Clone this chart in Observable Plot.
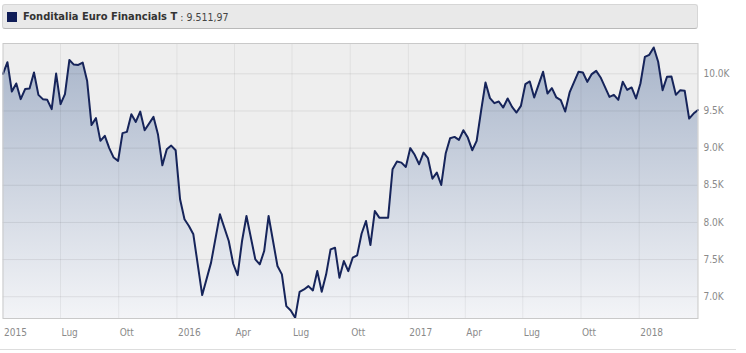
<!DOCTYPE html>
<html>
<head>
<meta charset="utf-8">
<script src="https://cdn.jsdelivr.net/npm/d3@7"></script>
<script src="https://cdn.jsdelivr.net/npm/@observablehq/plot@0.6"></script>
<style>
  html, body { margin: 0; padding: 0; background: #fff; }
  #wrap { position: relative; width: 746px; }
  #title {
    box-sizing: border-box;
    margin: 4px 0 0 2px; width: 696px; height: 25px;
    background: #e9e9e9; border: 1px solid #d6d6d6; border-bottom-color: #b9b9b9;
    border-radius: 3px;
    font-family: "DejaVu Sans Condensed", "DejaVu Sans", sans-serif; font-size: 11px; color: #333;
    display: flex; align-items: center; padding-left: 4px;
  }
  #title .sq { width: 10px; height: 10px; background: #0f1c57; margin-right: 6px; }
  #title b { font-weight: bold; }
  #title .val { color: #444; font-size: 10.5px; }
  #chartbox { margin-top: 11px; width: 746px; height: 309px; }
  #chartbox svg { display: block; max-width: none; }
  #sep { width: 736px; border-top: 1px solid #dddddd; }
</style>
</head>
<body>
<div id="wrap">
  <div id="title"><span class="sq"></span><b>Fonditalia Euro Financials T</b><span class="val">&nbsp;:&nbsp;9.511,97</span></div>
  <div id="chartbox"></div>
  <div id="sep"></div>
</div>
<script>
const dates = [
"2015-04-01","2015-04-08","2015-04-15","2015-04-22","2015-04-29","2015-05-06","2015-05-13","2015-05-20","2015-05-27","2015-06-03",
"2015-06-10","2015-06-17","2015-06-24","2015-07-01","2015-07-08","2015-07-15","2015-07-22","2015-07-29","2015-08-05","2015-08-12",
"2015-08-19","2015-08-26","2015-09-02","2015-09-09","2015-09-16","2015-09-23","2015-09-30","2015-10-07","2015-10-14","2015-10-21",
"2015-10-28","2015-11-04","2015-11-11","2015-11-25","2015-12-02","2015-12-09","2015-12-16","2015-12-23","2015-12-30","2016-01-06",
"2016-01-13","2016-01-20","2016-01-27","2016-02-10","2016-02-24","2016-03-09","2016-03-23","2016-03-30","2016-04-06","2016-04-13",
"2016-04-20","2016-05-04","2016-05-11","2016-05-18","2016-05-25","2016-06-08","2016-06-15","2016-06-22","2016-06-29","2016-07-06",
"2016-07-13","2016-07-20","2016-07-27","2016-08-03","2016-08-10","2016-08-17","2016-08-24","2016-08-31","2016-09-07","2016-09-14",
"2016-09-21","2016-09-28","2016-10-05","2016-10-12","2016-10-19","2016-10-26","2016-11-02","2016-11-09","2016-11-16","2016-11-30",
"2016-12-07","2016-12-14","2016-12-21","2016-12-28","2017-01-04","2017-01-11","2017-01-18","2017-01-25","2017-02-01","2017-02-08",
"2017-02-15","2017-02-22","2017-03-01","2017-03-08","2017-03-15","2017-03-22","2017-03-29","2017-04-05","2017-04-12","2017-04-19",
"2017-04-26","2017-05-03","2017-05-10","2017-05-17","2017-05-24","2017-05-31","2017-06-07","2017-06-14","2017-06-21","2017-06-28",
"2017-07-05","2017-07-12","2017-07-19","2017-08-02","2017-08-09","2017-08-16","2017-08-23","2017-08-30","2017-09-06","2017-09-13",
"2017-09-27","2017-10-04","2017-10-11","2017-10-18","2017-10-25","2017-11-01","2017-11-15","2017-11-22","2017-11-29","2017-12-06",
"2017-12-13","2017-12-20","2017-12-27","2018-01-03","2018-01-10","2018-01-17","2018-01-24","2018-01-31","2018-02-07","2018-02-14",
"2018-02-21","2018-02-28","2018-03-07","2018-03-14","2018-03-21","2018-03-28","2018-04-04"
];
const values = [
10000,10156,9762,9870,9659,9795,9802,10018,9717,9659,
9650,9524,10004,9592,9727,10186,10124,10119,10151,9908,
9310,9404,9098,9165,9000,8873,8829,9202,9219,9457,
9353,9492,9241,9420,9187,8769,8985,9034,8972,8312,
8043,7952,7840,7022,7459,8109,7750,7444,7291,7750,
8087,7503,7436,7615,8087,7413,7301,6874,6815,6716,
7066,7098,7143,7085,7345,7066,7301,7638,7660,7256,
7480,7345,7525,7556,7848,8019,7695,8154,8064,8064,
8716,8819,8805,8747,9000,8910,8783,8940,8864,8589,
8670,8504,8927,9134,9151,9111,9241,9142,8972,9098,
9502,9883,9673,9605,9627,9546,9668,9555,9479,9569,
9860,9897,9682,10027,9735,9807,9682,9646,9493,9749,
10027,10018,9892,9996,10040,9951,9690,9717,9650,9892,
9784,9816,9668,9870,10229,10256,10355,10162,9780,9960,
9964,9717,9780,9771,9398,9465,9512
];
const xTickDates = ["2015-04-01","2015-07-01","2015-10-01","2016-01-01","2016-04-01","2016-07-01","2016-10-01","2017-01-01","2017-04-01","2017-07-01","2017-10-01","2018-01-01"];
const xTickLabels = ["2015","Lug","Ott","2016","Apr","Lug","Ott","2017","Apr","Lug","Ott","2018"];
const yTicks = [7000, 7500, 8000, 8500, 9000, 9500, 10000];

const data = dates.map((d, i) => ({date: new Date(d), value: values[i]}));
const xt = xTickDates.map(d => new Date(d));
const labelOf = new Map(xt.map((d, i) => [+d, xTickLabels[i]]));

const FONT = '"DejaVu Sans Condensed", "DejaVu Sans", sans-serif';

const chart = Plot.plot({
  width: 746,
  height: 309,
  marginTop: 3,
  marginLeft: 2.5,
  marginRight: 48.5,
  marginBottom: 31,
  style: {fontFamily: FONT, background: "transparent", overflow: "visible", maxWidth: "none"},
  x: {type: "utc", domain: [data[0].date, data[data.length - 1].date], label: null},
  y: {domain: [6707, 10408], label: null},
  marks: [
    Plot.frame({fill: "#eeeeee"}),
    Plot.areaY(data, {x: "date", y: "value", y1: 6707, fill: "url(#areaGrad)"}),
    Plot.gridY(yTicks, {stroke: "#000", strokeOpacity: 0.08, strokeWidth: 1}),
    Plot.gridX(xt.slice(1), {stroke: "#000", strokeOpacity: 0.06, strokeWidth: 1}),
    Plot.lineY(data, {x: "date", y: "value", stroke: "#16245a", strokeWidth: 2, strokeLinejoin: "round"}),
    Plot.frame({stroke: "#c9c9c9"}),
    Plot.axisY(yTicks, {anchor: "right", tickSize: 0, tickPadding: 5.5, fontSize: 10, fill: "#8a8a8a", label: null,
      tickFormat: d => (d / 1000).toFixed(1) + "K"}),
    Plot.axisX(xt, {anchor: "bottom", tickSize: 0, tickPadding: 10, fontSize: 10, fill: "#8a8a8a", label: null,
      textAnchor: "start", dx: 1, tickFormat: d => labelOf.get(+d)})
  ]
});

const svg = d3.select(chart);
const defs = svg.insert("defs", ":first-child");
const grad = defs.append("linearGradient").attr("id", "areaGrad")
  .attr("gradientUnits", "userSpaceOnUse")
  .attr("x1", 0).attr("x2", 0).attr("y1", 3).attr("y2", 278);
grad.append("stop").attr("offset", "0%").attr("stop-color", "#a7b4c9");
grad.append("stop").attr("offset", "100%").attr("stop-color", "#f3f4f7");

document.getElementById("chartbox").appendChild(chart);
</script>
</body>
</html>
